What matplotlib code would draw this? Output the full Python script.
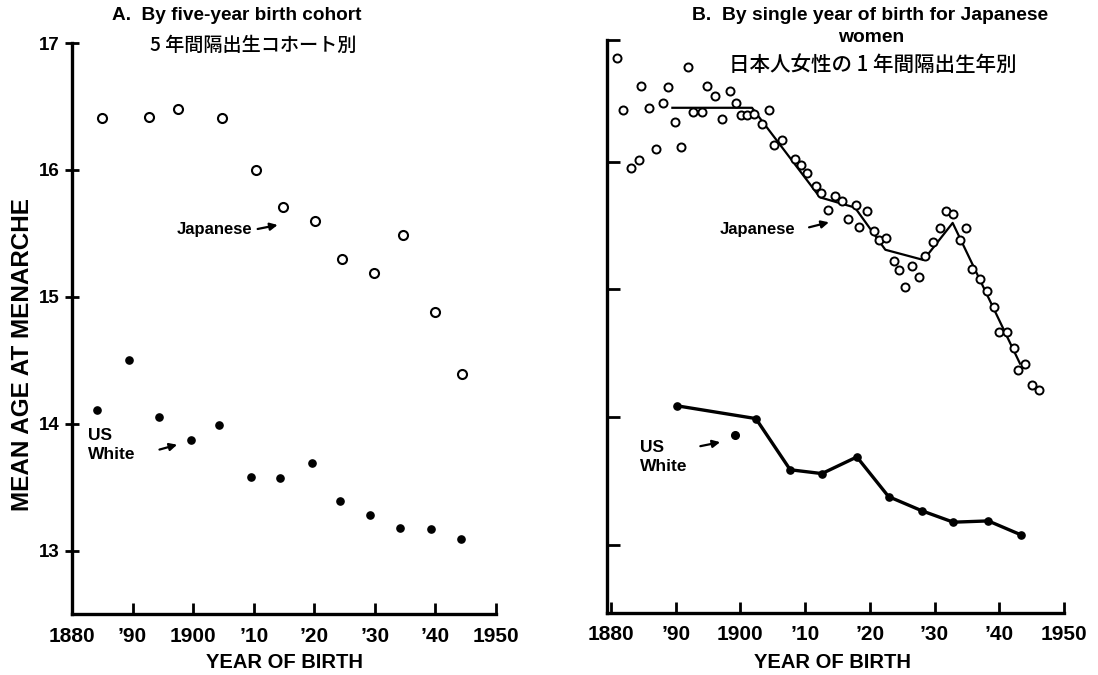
import matplotlib.pyplot as plt

LATIN = ['Liberation Sans', 'DejaVu Sans']
CJK = ['Noto Sans CJK JP', 'DejaVu Sans']
plt.rcParams['font.family'] = LATIN
plt.rcParams['font.weight'] = 'bold'

XTICKS = [1880, 1890, 1900, 1910, 1920, 1930, 1940, 1950]
XTICK_LABELS = ['1880', '\u201990', '1900', '\u201910', '\u201920', '\u201930', '\u201940', '1950']
YTICKS = [13, 14, 15, 16, 17]

# panel A: five-year birth cohorts
jp_cohort_year = [1884.9, 1892.7, 1897.5, 1904.7, 1910.3, 1914.8, 1920.2, 1924.5,
                  1929.9, 1934.6, 1939.9, 1944.4]
jp_cohort_age = [16.41, 16.42, 16.48, 16.41, 16.00, 15.71, 15.60, 15.30,
                 15.19, 15.49, 14.88, 14.39]
us_cohort_year = [1884.1, 1889.4, 1894.4, 1899.7, 1904.2, 1909.5, 1914.3, 1919.6,
                  1924.2, 1929.2, 1934.1, 1939.3, 1944.3]
us_cohort_age = [14.11, 14.50, 14.05, 13.87, 13.99, 13.58, 13.57, 13.69,
                 13.39, 13.28, 13.18, 13.17, 13.09]

# panel B: single year of birth, Japanese women
jp_single_year = [1881.0, 1881.9, 1883.1, 1884.3, 1884.6, 1885.9, 1887.0, 1888.0,
                  1888.9, 1889.9, 1890.9, 1891.9, 1892.7, 1894.0, 1894.8, 1896.1,
                  1897.2, 1898.4, 1899.3, 1900.1, 1901.1, 1902.1, 1903.3, 1904.5,
                  1905.2, 1906.5, 1908.5, 1909.4, 1910.3, 1911.7, 1912.4, 1913.5,
                  1914.6, 1915.7, 1916.7, 1917.8, 1918.4, 1919.6, 1920.6, 1921.4,
                  1922.5, 1923.7, 1924.5, 1925.5, 1926.5, 1927.6, 1928.5, 1929.7,
                  1930.8, 1931.7, 1932.8, 1934.0, 1934.8, 1935.8, 1937.1, 1938.1,
                  1939.2, 1940.0, 1941.2, 1942.3, 1942.9, 1944.0, 1945.0, 1946.1]
jp_single_age = [16.81, 16.40, 15.95, 16.01, 16.59, 16.42, 16.10, 16.46,
                 16.58, 16.31, 16.11, 16.74, 16.39, 16.39, 16.59, 16.51,
                 16.33, 16.55, 16.46, 16.36, 16.36, 16.37, 16.29, 16.40,
                 16.13, 16.17, 16.02, 15.97, 15.91, 15.81, 15.75, 15.62,
                 15.73, 15.69, 15.55, 15.66, 15.49, 15.61, 15.46, 15.39,
                 15.40, 15.22, 15.15, 15.02, 15.18, 15.10, 15.26, 15.37,
                 15.48, 15.61, 15.59, 15.39, 15.48, 15.16, 15.08, 14.99,
                 14.86, 14.67, 14.67, 14.54, 14.37, 14.42, 14.25, 14.21]
jp_fit_year = [1889.5, 1901.8, 1912.3, 1917.7, 1922.4, 1928.3, 1932.8, 1943.2]
jp_fit_age = [16.42, 16.42, 15.72, 15.64, 15.31, 15.23, 15.52, 14.42]
us_line_year = [1890.2, 1902.4, 1907.7, 1912.6, 1918.0, 1922.9, 1928.0, 1932.9,
                1938.3, 1943.4]
us_line_age = [14.09, 13.99, 13.59, 13.56, 13.69, 13.38, 13.27, 13.18, 13.19, 13.08]
us_single_year = [1899.2]
us_single_age = [13.86]

W, H = 1098, 675
fig = plt.figure(figsize=(W / 100, H / 100), dpi=100)


def frac(x0, y0, x1, y1):
    return [x0 / W, 1 - y1 / H, (x1 - x0) / W, (y1 - y0) / H]


def style_axes(ax, show_y):
    for s in ['top', 'right']:
        ax.spines[s].set_visible(False)
    for s in ['left', 'bottom']:
        ax.spines[s].set_linewidth(2.4)
    ax.set_xticks(XTICKS)
    ax.set_xticklabels(XTICK_LABELS, fontsize=15, fontweight='bold')
    ax.tick_params(axis='x', direction='in', length=8, width=2, pad=9)
    if show_y:
        ax.set_yticks(YTICKS)
        ax.set_yticklabels([str(v) for v in YTICKS], fontsize=13.5, fontweight='bold')
        ax.tick_params(axis='y', direction='inout', length=10, width=2, pad=4)
    else:
        ax.set_yticks(YTICKS[:-1] + [ax.get_ylim()[1]])
        ax.set_yticklabels([])
        ax.tick_params(axis='y', direction='in', length=9, width=2)


# ---- panel A
axA = fig.add_axes(frac(72, 43, 496, 614))
axA.plot(jp_cohort_year, jp_cohort_age, 'o', ms=6.5, mfc='white', mec='black', mew=1.5,
         clip_on=False)
axA.plot(us_cohort_year, us_cohort_age, 'o', ms=5.2, color='black', clip_on=False)
axA.set_xlim(1880, 1950)
axA.set_ylim(12.5, 17)
style_axes(axA, True)

axA.text(1909.7, 15.53, 'Japanese', ha='right', va='center', fontsize=12, fontweight='bold')
axA.annotate('', xy=(1914.4, 15.57), xytext=(1910.2, 15.53),
             arrowprops=dict(arrowstyle='-|>', color='black', lw=1.6, mutation_scale=11))
axA.text(1882.6, 13.83, 'US\nWhite', ha='left', va='center', fontsize=12.5,
         fontweight='bold', linespacing=1.3)
axA.annotate('', xy=(1897.8, 13.84), xytext=(1894.0, 13.79),
             arrowprops=dict(arrowstyle='-|>', color='black', lw=1.6, mutation_scale=11))

# ---- panel B
axB = fig.add_axes(frac(607, 40, 1064, 613))
axB.plot(jp_single_year, jp_single_age, 'o', ms=5.8, mfc='white', mec='black', mew=1.4,
         clip_on=False, zorder=3)
axB.plot(jp_fit_year, jp_fit_age, '-', color='black', lw=1.6, zorder=2)
axB.plot(us_line_year, us_line_age, '-o', color='black', lw=2.4, ms=5.2)
axB.plot(us_single_year, us_single_age, 'o', color='black', ms=5.5)
axB.set_xlim(1879.4, 1950)
axB.set_ylim(12.47, 16.95)
style_axes(axB, False)

axB.text(1908.5, 15.47, 'Japanese', ha='right', va='center', fontsize=12, fontweight='bold')
axB.annotate('', xy=(1914.1, 15.53), xytext=(1910.2, 15.48),
             arrowprops=dict(arrowstyle='-|>', color='black', lw=1.6, mutation_scale=11))
axB.text(1884.5, 13.69, 'US\nWhite', ha='left', va='center', fontsize=12.5,
         fontweight='bold', linespacing=1.3)
axB.annotate('', xy=(1897.3, 13.81), xytext=(1893.4, 13.77),
             arrowprops=dict(arrowstyle='-|>', color='black', lw=1.6, mutation_scale=11))

# ---- titles and axis labels
fig.text(237 / W, 1 - 15 / H, 'A.  By five-year birth cohort', ha='center', va='center',
         fontsize=13.7, fontweight='bold')
fig.text(253 / W, 1 - 45 / H, '5 年間隔出生コホート別', ha='center', va='center',
         fontsize=13.8, family=CJK, fontweight='medium')
fig.text(870 / W, 1 - 15 / H, 'B.  By single year of birth for Japanese', ha='center',
         va='center', fontsize=13.9, fontweight='bold')
fig.text(871 / W, 1 - 37 / H, 'women', ha='center', va='center', fontsize=13.9,
         fontweight='bold')
fig.text(873 / W, 1 - 65 / H, '日本人女性の 1 年間隔出生年別', ha='center', va='center',
         fontsize=14.8, family=CJK, fontweight='medium')

fig.text(23 / W, 1 - 354 / H, 'MEAN AGE AT MENARCHE', rotation=90, ha='center',
         va='center', fontsize=17.5, fontweight='bold')
fig.text(284 / W, 1 - 663 / H, 'YEAR OF BIRTH', ha='center', va='center', fontsize=14.5,
         fontweight='bold')
fig.text(833 / W, 1 - 663 / H, 'YEAR OF BIRTH', ha='center', va='center', fontsize=14.5,
         fontweight='bold')

fig.savefig('out.png', dpi=100)
